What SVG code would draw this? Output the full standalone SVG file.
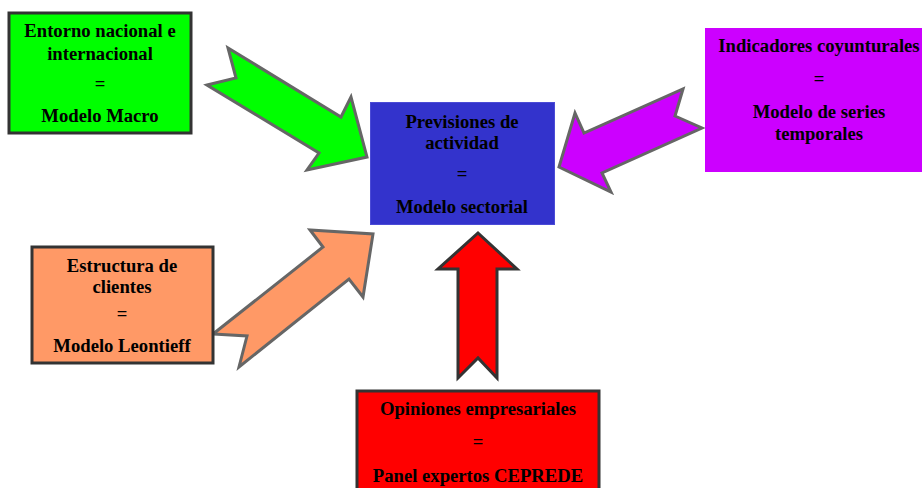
<svg xmlns="http://www.w3.org/2000/svg" width="922" height="488" viewBox="0 0 922 488">
<style>
text{font-family:"Liberation Serif","Times New Roman",serif;font-weight:bold;font-size:18.67px;fill:#000;text-anchor:middle}
.box{stroke:#333;stroke-width:3}
.arr{stroke:#666;stroke-width:3;stroke-linejoin:miter}
</style>
<rect width="922" height="488" fill="#fff"/>
<g id="connectors">
<polygon class="arr" fill="#00ff00" points="207,85 236,78 228,48 341,117 351,97 367,157 307,170 319,153"/>
<polygon class="arr" fill="#cc00ff" points="683,89 675,116 702,128 602,173 611,192 559,167 575,113 584,133"/>
<polygon class="arr" fill="#ff9966" points="213,334 323,247 310,230 373,234 363,297 349,279 239,367 247,336"/>
<polygon class="arr" fill="#ff0000" style="stroke:#333" points="478,233 517,269 497,269 497,378 478,358 458,378 458,269 438,269"/>
</g>
<g id="entorno">
<rect class="box" x="9" y="13" width="182" height="120" fill="#00ff00"/>
<text x="100" y="37">Entorno nacional e</text>
<text x="100" y="60">internacional</text>
<text x="100" y="90">=</text>
<text x="100" y="122">Modelo Macro</text>
</g>
<g id="indicadores">
<rect x="705" y="28" width="230" height="144" fill="#cc00ff"/>
<text x="819" y="52">Indicadores coyunturales</text>
<text x="819" y="85">=</text>
<text x="819" y="118">Modelo de series</text>
<text x="819" y="140">temporales</text>
</g>
<g id="previsiones">
<rect x="370.5" y="102.5" width="184" height="122" fill="#3333cc" stroke="#4b4bd6" stroke-width="1"/>
<text x="462" y="128">Previsiones de</text>
<text x="462" y="149">actividad</text>
<text x="462" y="180">=</text>
<text x="462" y="213">Modelo sectorial</text>
</g>
<g id="estructura">
<rect class="box" x="32" y="247" width="181" height="116" fill="#ff9966"/>
<text x="122" y="272">Estructura de</text>
<text x="122" y="293">clientes</text>
<text x="122" y="320">=</text>
<text x="122" y="352">Modelo Leontieff</text>
</g>
<g id="opiniones">
<rect class="box" x="357" y="391" width="242" height="110" fill="#ff0000"/>
<text x="478" y="415">Opiniones empresariales</text>
<text x="478" y="448">=</text>
<text x="478" y="482">Panel expertos CEPREDE</text>
</g>
</svg>
